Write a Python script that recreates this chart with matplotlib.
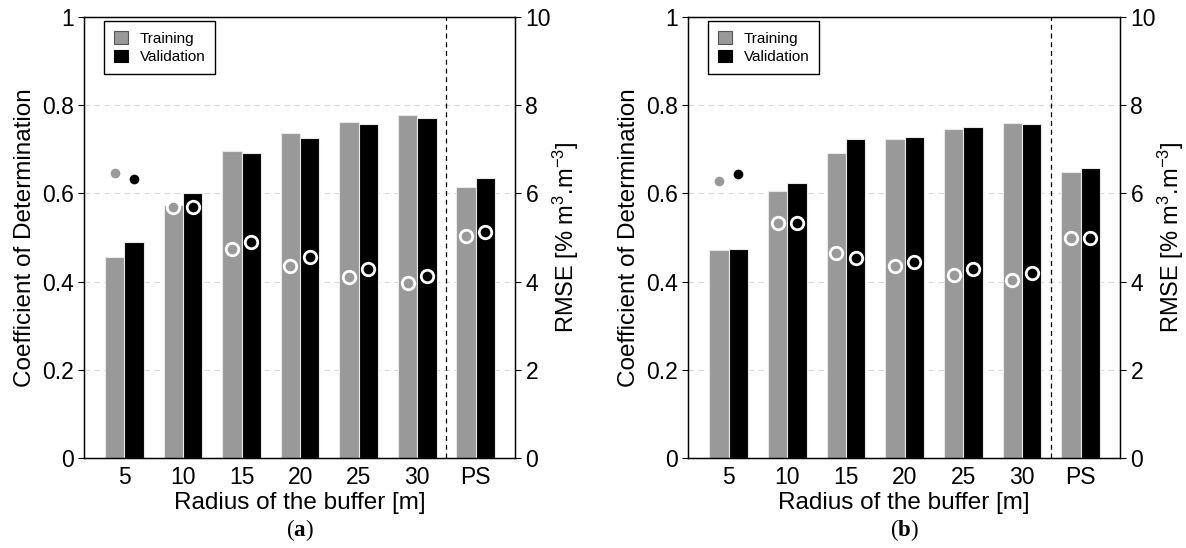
import numpy as np
import matplotlib
matplotlib.use('Agg')
import matplotlib.pyplot as plt
from matplotlib.patches import Patch

plt.rcParams['font.family'] = ['Liberation Sans', 'DejaVu Sans']
plt.rcParams['mathtext.fontset'] = 'custom'
plt.rcParams['mathtext.rm'] = 'Liberation Sans'
plt.rcParams['mathtext.bf'] = 'Liberation Serif:bold'
plt.rcParams['mathtext.default'] = 'regular'

categories = ['5', '10', '15', '20', '25', '30', 'PS']

# panel (a)
r2_train_a = [0.456, 0.574, 0.696, 0.737, 0.762, 0.777, 0.615]
r2_val_a = [0.489, 0.602, 0.691, 0.726, 0.757, 0.770, 0.634]
rmse_train_a = [6.46, 5.70, 4.74, 4.35, 4.11, 3.96, 5.03]
rmse_val_a = [6.32, 5.70, 4.89, 4.56, 4.28, 4.13, 5.13]

# panel (b)
r2_train_b = [0.472, 0.606, 0.692, 0.723, 0.747, 0.760, 0.649]
r2_val_b = [0.475, 0.624, 0.723, 0.729, 0.751, 0.757, 0.658]
rmse_train_b = [6.28, 5.34, 4.64, 4.35, 4.16, 4.04, 4.98]
rmse_val_b = [6.45, 5.34, 4.54, 4.45, 4.28, 4.20, 4.98]

gray = '#999999'
w = 0.33


def panel(ax, r2_tr, r2_va, rm_tr, rm_va, tag):
    x = np.arange(len(categories))
    ax.set_axisbelow(True)
    ax.bar(x - w / 2, r2_tr, w, color=gray, edgecolor='#e8e8e8', linewidth=0.8)
    ax.bar(x + w / 2, r2_va, w, color='black', edgecolor='#e8e8e8', linewidth=0.8)
    ax.set_ylim(0, 1)
    ax.set_xlim(-0.69, 6.67)
    ax.set_yticks([0, 0.2, 0.4, 0.6, 0.8, 1])
    ax.set_yticklabels(['0', '0.2', '0.4', '0.6', '0.8', '1'])
    ax.set_xticks(x)
    ax.set_xticklabels(categories)
    ax.tick_params(axis='x', length=0, labelsize=16.5, pad=6)
    ax.tick_params(axis='y', length=4, labelsize=16.5, direction='out')
    for yv in [0.2, 0.4, 0.6, 0.8]:
        ax.axhline(yv, color='#d9d9d9', lw=0.8, ls=(0, (5, 4)), zorder=0)
    ax.axvline(5.5, color='black', lw=0.9, ls=(0, (4, 3)))
    ax.set_ylabel('Coefficient of Determination', fontsize=17.5, labelpad=4)
    ax.set_xlabel('Radius of the buffer [m]', fontsize=17.5, labelpad=2)
    for s in ax.spines.values():
        s.set_linewidth(1.0)

    ax2 = ax.twinx()
    ax2.plot(x - w / 2, rm_tr, 'o', ms=9, mfc=gray, mec='white', mew=2, ls='none')
    ax2.plot(x + w / 2, rm_va, 'o', ms=9, mfc='black', mec='white', mew=2, ls='none')
    ax2.set_ylim(0, 10)
    ax2.set_yticks([0, 2, 4, 6, 8, 10])
    ax2.tick_params(axis='y', length=4, labelsize=16.5, direction='out')
    ax2.set_ylabel('RMSE [% m$^3$.m$^{-3}$]', fontsize=17, labelpad=0)

    handles = [Patch(facecolor=gray, edgecolor='#555555', lw=0.8),
               Patch(facecolor='black', edgecolor='black', lw=0.8)]
    leg = ax.legend(handles, ['Training', 'Validation'], loc='upper left',
                    bbox_to_anchor=(0.046, 0.99), borderaxespad=0, fontsize=11,
                    fancybox=False, framealpha=1, edgecolor='black',
                    handlelength=0.9, handleheight=0.9, handletextpad=0.8,
                    borderpad=0.65, labelspacing=0.25)
    leg.get_frame().set_linewidth(1.0)
    leg.set_zorder(5)

    pos = ax.get_position()
    fig.text((pos.x0 + pos.x1) / 2, 0.032, r'($\mathbf{' + tag + '}$)',
             family='Liberation Serif', fontsize=16.5, ha='center', va='center')


fig = plt.figure(figsize=(11.86, 5.48), dpi=100)
ax_a = fig.add_axes([84 / 1186, 90 / 548, 431 / 1186, 441 / 548])
ax_b = fig.add_axes([688 / 1186, 90 / 548, 432 / 1186, 441 / 548])
panel(ax_a, r2_train_a, r2_val_a, rmse_train_a, rmse_val_a, 'a')
panel(ax_b, r2_train_b, r2_val_b, rmse_train_b, rmse_val_b, 'b')

fig.savefig('out.png', dpi=100)
